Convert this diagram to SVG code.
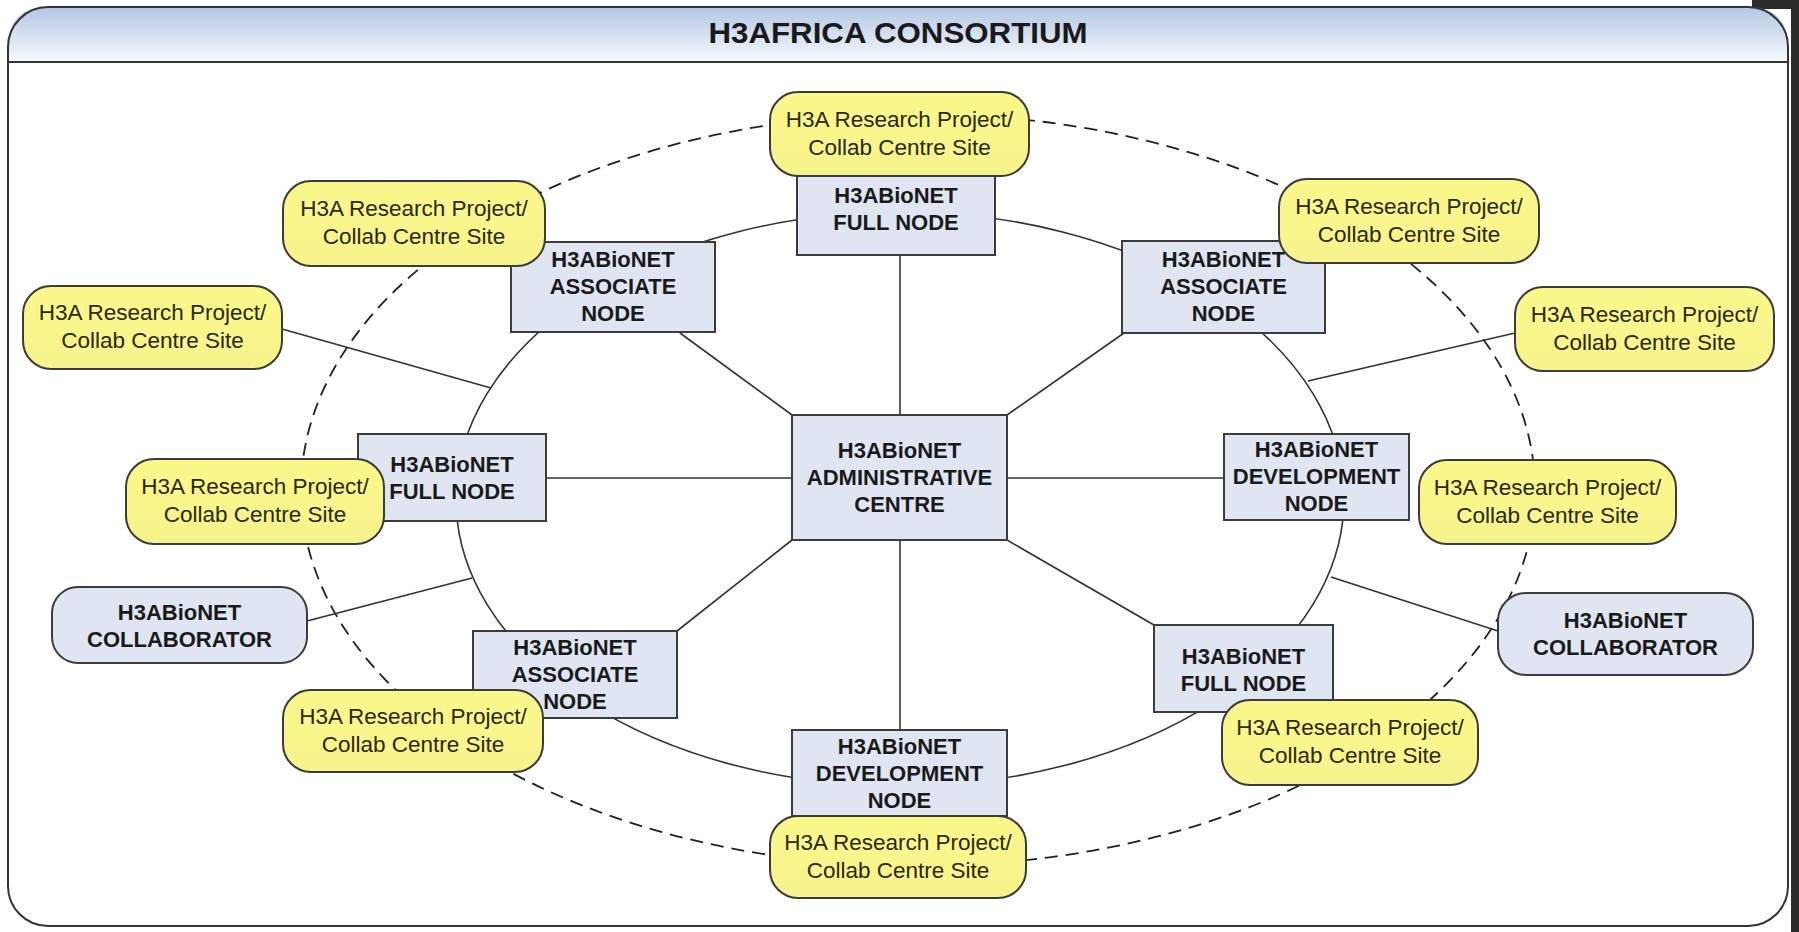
<svg xmlns="http://www.w3.org/2000/svg" width="1799" height="932" viewBox="0 0 1799 932">
<defs>
<linearGradient id="hdr" x1="0" y1="0" x2="0" y2="1">
<stop offset="0" stop-color="#b3c7e3"/>
<stop offset="1" stop-color="#f7f9fd"/>
</linearGradient>
<linearGradient id="ylw" x1="0" y1="0" x2="0" y2="1">
<stop offset="0" stop-color="#fbf88a"/>
<stop offset="1" stop-color="#f7f38c"/>
</linearGradient>
</defs>
<style>
.blue{fill:#dfe6f2;stroke:#3c3c3c;stroke-width:2}
.yel{fill:url(#ylw);stroke:#3c3c3c;stroke-width:2}
.bt{font-family:"Liberation Sans",Arial,sans-serif;font-weight:bold;font-size:22px;fill:#1a1a1a;text-anchor:middle}
.yt{font-family:"Liberation Sans",Arial,sans-serif;font-size:22.5px;fill:#2a2a10;text-anchor:middle}
.ln{stroke:#333;stroke-width:1.6;fill:none}
.dash{stroke:#222;stroke-width:1.8;fill:none;stroke-dasharray:13 8}
</style>
<rect x="0" y="0" width="1799" height="932" fill="#ffffff"/>
<rect x="1791" y="0" width="8" height="932" fill="#2b2b2b"/>
<rect x="1752" y="0" width="47" height="9" fill="#2b2b2b"/>
<g id="frame">
<path d="M8,62 L8,47 Q8,7 48,7 L1748,7 Q1788,7 1788,47 L1788,62 Z" fill="url(#hdr)"/>
<rect x="8" y="7" width="1780" height="919" rx="40" ry="40" fill="none" stroke="#333" stroke-width="2"/>
<line x1="8" y1="62" x2="1788" y2="62" stroke="#333" stroke-width="2"/>
<text x="898" y="43" font-family="'Liberation Sans',Arial,sans-serif" font-weight="bold" font-size="30" fill="#1a1a1a" text-anchor="middle" textLength="379" lengthAdjust="spacingAndGlyphs">H3AFRICA CONSORTIUM</text>
</g>
<g id="connectors">
<ellipse cx="918" cy="490" rx="617" ry="376" class="dash"/>
<ellipse cx="900" cy="499" rx="444" ry="287" class="ln"/>
<line x1="900" y1="255" x2="900" y2="415" class="ln"/>
<line x1="680" y1="333" x2="792" y2="415" class="ln"/>
<line x1="1007" y1="415" x2="1124" y2="333" class="ln"/>
<line x1="546" y1="478" x2="792" y2="478" class="ln"/>
<line x1="1007" y1="478" x2="1224" y2="478" class="ln"/>
<line x1="792" y1="540" x2="677" y2="631" class="ln"/>
<line x1="900" y1="540" x2="900" y2="730" class="ln"/>
<line x1="1007" y1="540" x2="1154" y2="625" class="ln"/>
<line x1="282" y1="329" x2="491" y2="388" class="ln"/>
<line x1="307" y1="621" x2="472" y2="578" class="ln"/>
<line x1="1515" y1="333" x2="1308" y2="381" class="ln"/>
<line x1="1498" y1="631" x2="1331" y2="577" class="ln"/>
</g>
<g id="admin">
<rect x="792" y="415" width="215" height="125" class="blue"/>
<text class="bt" x="899.5" y="458">H3ABioNET</text>
<text class="bt" x="899.5" y="485">ADMINISTRATIVE</text>
<text class="bt" x="899.5" y="512">CENTRE</text>
</g>
<g id="full-top">
<rect x="797" y="174" width="198" height="81" class="blue"/>
<text class="bt" x="896" y="203">H3ABioNET</text>
<text class="bt" x="896" y="230">FULL NODE</text>
</g>
<g id="assoc-ul">
<rect x="511" y="242" width="204" height="90" class="blue"/>
<text class="bt" x="613" y="267">H3ABioNET</text>
<text class="bt" x="613" y="294">ASSOCIATE</text>
<text class="bt" x="613" y="321">NODE</text>
</g>
<g id="assoc-ur">
<rect x="1122" y="241" width="203" height="92" class="blue"/>
<text class="bt" x="1223.5" y="267">H3ABioNET</text>
<text class="bt" x="1223.5" y="294">ASSOCIATE</text>
<text class="bt" x="1223.5" y="321">NODE</text>
</g>
<g id="full-left">
<rect x="358" y="434" width="188" height="87" class="blue"/>
<text class="bt" x="452" y="472">H3ABioNET</text>
<text class="bt" x="452" y="499">FULL NODE</text>
</g>
<g id="dev-right">
<rect x="1224" y="434" width="185" height="86" class="blue"/>
<text class="bt" x="1316.5" y="457">H3ABioNET</text>
<text class="bt" x="1316.5" y="484">DEVELOPMENT</text>
<text class="bt" x="1316.5" y="511">NODE</text>
</g>
<g id="assoc-ll">
<rect x="473" y="631" width="204" height="87" class="blue"/>
<text class="bt" x="575" y="655">H3ABioNET</text>
<text class="bt" x="575" y="682">ASSOCIATE</text>
<text class="bt" x="575" y="709">NODE</text>
</g>
<g id="dev-bottom">
<rect x="792" y="730" width="215" height="86" class="blue"/>
<text class="bt" x="899.5" y="754">H3ABioNET</text>
<text class="bt" x="899.5" y="781">DEVELOPMENT</text>
<text class="bt" x="899.5" y="808">NODE</text>
</g>
<g id="full-lr">
<rect x="1154" y="625" width="179" height="87" class="blue"/>
<text class="bt" x="1243.5" y="664">H3ABioNET</text>
<text class="bt" x="1243.5" y="691">FULL NODE</text>
</g>
<g id="collab-left">
<rect x="52" y="587" width="255" height="76" rx="26" ry="26" class="blue"/>
<text class="bt" x="179.5" y="620">H3ABioNET</text>
<text class="bt" x="179.5" y="647">COLLABORATOR</text>
</g>
<g id="collab-right">
<rect x="1498" y="593" width="255" height="82" rx="28" ry="28" class="blue"/>
<text class="bt" x="1625.5" y="628">H3ABioNET</text>
<text class="bt" x="1625.5" y="655">COLLABORATOR</text>
</g>
<g id="site-top">
<rect x="770" y="92" width="259" height="84" rx="28" ry="28" class="yel"/>
<text class="yt" x="899.5" y="127">H3A Research Project/</text>
<text class="yt" x="899.5" y="155">Collab Centre Site</text>
</g>
<g id="site-ul">
<rect x="283" y="181" width="262" height="85" rx="28" ry="28" class="yel"/>
<text class="yt" x="414" y="216">H3A Research Project/</text>
<text class="yt" x="414" y="244">Collab Centre Site</text>
</g>
<g id="site-left-upper">
<rect x="23" y="286" width="259" height="83" rx="28" ry="28" class="yel"/>
<text class="yt" x="152.5" y="320">H3A Research Project/</text>
<text class="yt" x="152.5" y="348">Collab Centre Site</text>
</g>
<g id="site-left-mid">
<rect x="126" y="459" width="258" height="85" rx="28" ry="28" class="yel"/>
<text class="yt" x="255" y="494">H3A Research Project/</text>
<text class="yt" x="255" y="522">Collab Centre Site</text>
</g>
<g id="site-ll">
<rect x="283" y="690" width="260" height="82" rx="28" ry="28" class="yel"/>
<text class="yt" x="413" y="724">H3A Research Project/</text>
<text class="yt" x="413" y="752">Collab Centre Site</text>
</g>
<g id="site-bottom">
<rect x="770" y="816" width="256" height="82" rx="28" ry="28" class="yel"/>
<text class="yt" x="898" y="850">H3A Research Project/</text>
<text class="yt" x="898" y="878">Collab Centre Site</text>
</g>
<g id="site-lr">
<rect x="1222" y="700" width="256" height="85" rx="28" ry="28" class="yel"/>
<text class="yt" x="1350" y="735">H3A Research Project/</text>
<text class="yt" x="1350" y="763">Collab Centre Site</text>
</g>
<g id="site-right-mid">
<rect x="1419" y="460" width="257" height="84" rx="28" ry="28" class="yel"/>
<text class="yt" x="1547.5" y="495">H3A Research Project/</text>
<text class="yt" x="1547.5" y="523">Collab Centre Site</text>
</g>
<g id="site-right-upper">
<rect x="1515" y="287" width="259" height="84" rx="28" ry="28" class="yel"/>
<text class="yt" x="1644.5" y="322">H3A Research Project/</text>
<text class="yt" x="1644.5" y="350">Collab Centre Site</text>
</g>
<g id="site-ur">
<rect x="1279" y="179" width="260" height="84" rx="28" ry="28" class="yel"/>
<text class="yt" x="1409" y="214">H3A Research Project/</text>
<text class="yt" x="1409" y="242">Collab Centre Site</text>
</g>
</svg>
